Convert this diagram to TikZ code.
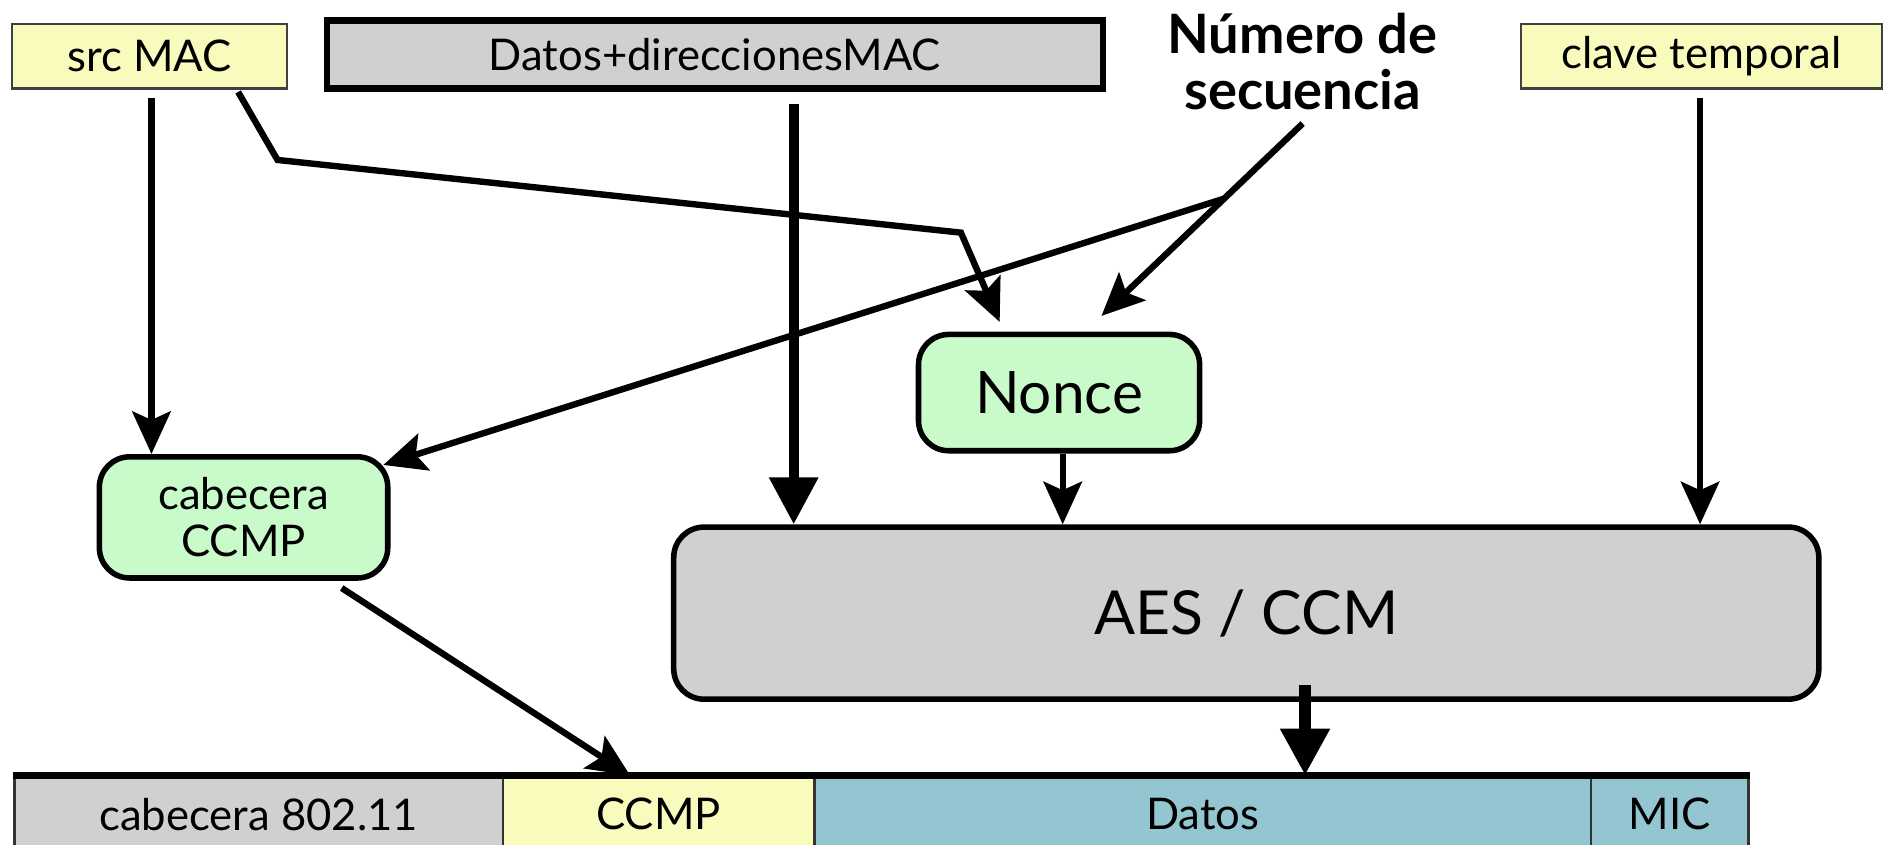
\documentclass[tikz,border=0pt]{standalone}
\usepackage{fontspec}
\setmainfont{Lato}
\usepackage{xcolor}
\usepackage{tikz}
\usetikzlibrary{arrows.meta, calc}
\definecolor{keyyellow}{RGB}{248,251,187}
\definecolor{boxgray}{RGB}{208,208,208}
\definecolor{boxgreen}{RGB}{200,250,202}
\definecolor{datateal}{RGB}{147,198,208}
\tikzstyle{arrow} = [line width=3pt,-{Stealth[length=20pt,width=18pt,inset=4pt]}]
\tikzstyle{bigarrow} = [line width=4.6pt,-{Triangle[length=22pt,width=22pt]}]
\tikzstyle{keybox} = [draw=black!75,line width=1pt,fill=keyyellow,inner sep=0pt]
\tikzstyle{roundbox} = [draw,line width=2.6pt,fill=boxgreen,rounded corners=5mm,inner sep=0pt,align=center]
\tikzstyle{cell} = [draw=black!80,line width=1.2pt,minimum height=12.4mm,inner sep=0pt]

\begin{document}
\begin{tikzpicture}[x=0.2mm,y=-0.2mm,font=\fontsize{20.5}{24}\selectfont]
			\useasboundingbox (0,0) rectangle (1568,697);
			
			% Inputs:
			% Keys and data along the top row
			\node[keybox,minimum width=45.4mm,minimum height=10.6mm] (srcmac) at (123.5,46.5) {src MAC};
			\node[draw,line width=3pt,fill=boxgray,minimum width=128mm,minimum height=11.2mm] (datosmac) at (590,45) {Datos+direccionesMAC};
			\node[font=\fontsize{25.5}{26.5}\selectfont\bfseries,align=center] (seqnum) at (1075,51) {Número de\\secuencia};
			\node[keybox,minimum width=59.6mm,minimum height=10.6mm] (clave) at (1404,46.5) {clave temporal};
			
			% Blocks:
			\node[roundbox,minimum width=46.4mm,minimum height=19.2mm,font=\fontsize{27.5}{30}\selectfont] (nonce) at (874,324) {Nonce};
			\node[roundbox,minimum width=47.6mm,minimum height=20mm,font=\fontsize{20.5}{22}\selectfont] (cabccmp) at (201,427) {cabecera\\CCMP};
			\node[roundbox,fill=boxgray,minimum width=189mm,minimum height=28.4mm,font=\fontsize{28.5}{30}\selectfont] (aes) at (1028.5,506) {AES / CCM};
			
			% Frame:
			% The cells sit side by side, the thick line marks the top
			\node[cell,fill=boxgray,minimum width=80.6mm] (cab80211) at (213.5,672) {cabecera 802.11};
			\node[cell,fill=keyyellow,minimum width=51.4mm] (ccmp) at (543.5,672) {CCMP};
			\node[cell,fill=datateal,minimum width=128.2mm] (datos) at (992.5,672) {Datos};
			\node[cell,fill=datateal,minimum width=26mm] (mic) at (1378,672) {MIC};
			\draw[line width=3.2pt] (cab80211.north west) -- (mic.north east);
			
			% Arrows:
			\coordinate (bendA) at (229,132);
			\coordinate (bendB) at (793,192);
			\coordinate (seqstart) at (1075,102);
			\coordinate (seqend) at ($(nonce.north)+(35,-13)$);
			\coordinate (mstart) at ($(srcmac.south)+(1.5,7)$);
			\coordinate (dstart) at ($(datosmac.south)+(65,10)$);
			\coordinate (cstart) at ($(clave.south)+(-1,7)$);
			\coordinate (nstart) at ($(nonce.south)+(3,0)$);
			\coordinate (astart) at ($(aes.south)+(48.5,-14)$);
			
			\draw[arrow] (mstart) -- (mstart |- cabccmp.north);
			\draw[arrow] ($(srcmac.south)+(73,2)$) -- (bendA) -- (bendB) -- ($(nonce.north)+(-49,-8)$);
			\draw[bigarrow] (dstart) -- (dstart |- aes.north);
			\draw[arrow] (seqstart) -- (seqend);
			\draw[arrow] ($(seqstart)!0.39!(seqend)$) -- ($(cabccmp.north east)+(-6,9)$);
			\draw[arrow] (cstart) -- (cstart |- aes.north);
			\draw[arrow] (nstart) -- (nstart |- aes.north);
			\draw[bigarrow,line width=5.6pt] (astart) -- (astart |- datos.north);
			\draw[arrow] ($(cabccmp.south)+(81,6)$) -- ($(ccmp.north)+(-23.5,0)$);
			
			\end{tikzpicture}
\end{document}
